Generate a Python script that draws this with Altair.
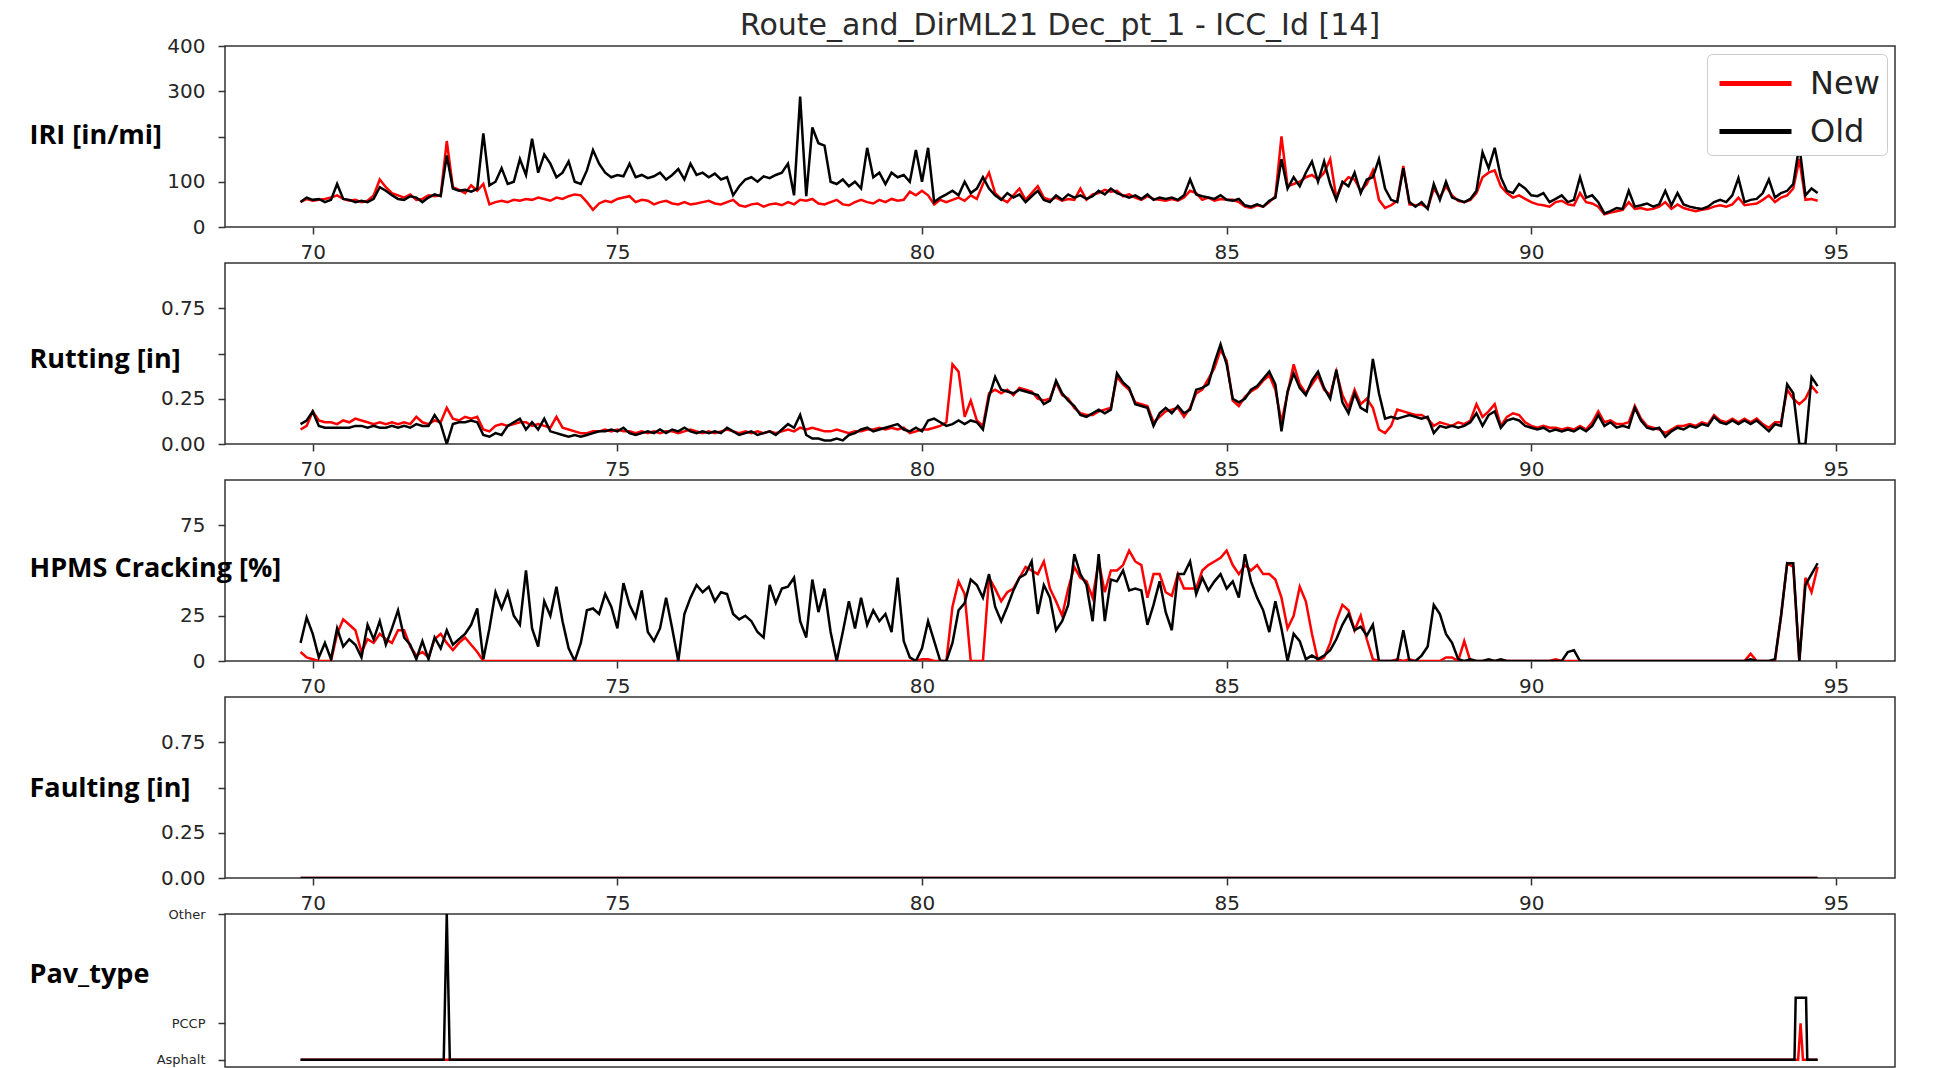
import altair as alt
import pandas as pd

# ---------------- data ----------------
miles = [round(69.8 + 0.1 * i, 1) for i in range(250)]

iri_old = [
    55, 65, 60,
    62, 55, 60, 95, 62, 60, 55, 58, 55, 62,
    88, 80, 70, 62, 60, 68, 65, 55, 65, 72,
    68, 158, 85, 80, 82, 78, 84, 207, 92, 100,
    130, 95, 100, 150, 115, 195, 120, 160, 140, 110,
    120, 145, 100, 95, 125, 170, 140, 120, 110, 115,
    112, 140, 110, 115, 108, 112, 120, 105, 115, 128,
    105, 140, 115, 120, 110, 118, 105, 110, 70, 90,
    105, 110, 100, 112, 108, 115, 120, 140, 70, 288,
    68, 220, 185, 180, 100, 95, 105, 90, 100, 85,
    175, 110, 120, 95, 120, 110, 115, 100, 170, 100,
    175, 55, 65, 72, 80, 70, 100, 75, 85, 110,
    85, 70, 60, 75, 65, 72, 55, 68, 80, 60,
    55, 70, 60, 72, 65, 70, 62, 68, 80, 72,
    85, 75, 70, 65, 70, 62, 72, 60, 65, 62,
    65, 60, 70, 105, 72, 68, 65, 62, 70, 60,
    58, 62, 48, 45, 50, 45, 58, 65, 150, 85,
    110, 90, 120, 145, 100, 145, 95, 60, 100, 90,
    120, 75, 105, 110, 150, 85, 60, 55, 130, 55,
    45, 55, 40, 95, 60, 100, 65, 60, 55, 62,
    80, 165, 130, 175, 110, 80, 75, 95, 85, 70,
    68, 75, 55, 62, 70, 55, 60, 110, 65, 70,
    55, 30, 35, 42, 40, 80, 45, 48, 52, 45,
    50, 80, 48, 75, 50, 45, 42, 40, 45, 55,
    60, 55, 70, 108, 55, 60, 62, 75, 105, 65,
    75, 80, 95, 180, 70, 85, 75,
]
iri_new = [
    55, 62, 58,
    60, 62, 65, 70, 62, 58, 60, 55, 58, 70,
    105, 88, 75, 70, 65, 72, 60, 62, 70, 68,
    70, 190, 88, 82, 75, 92, 80, 95, 50, 55,
    58, 55, 60, 58, 62, 60, 65, 62, 58, 65,
    62, 68, 72, 70, 55, 38, 52, 58, 55, 62,
    65, 68, 55, 60, 58, 50, 55, 58, 52, 50,
    55, 50, 52, 55, 58, 52, 50, 55, 60, 48,
    45, 50, 52, 45, 50, 52, 48, 55, 50, 60,
    58, 62, 52, 50, 55, 60, 50, 48, 55, 60,
    55, 52, 60, 55, 62, 58, 60, 78, 70, 80,
    70, 50, 60, 55, 60, 65, 58, 70, 62, 95,
    120, 75, 62, 55, 70, 85, 60, 75, 90, 65,
    60, 65, 58, 62, 60, 85, 60, 72, 75, 82,
    78, 80, 68, 72, 65, 60, 68, 62, 60, 58,
    62, 58, 65, 80, 75, 60, 65, 58, 62, 60,
    60, 55, 45, 42, 48, 45, 55, 68, 200, 90,
    95, 100, 110, 115, 105, 120, 150, 65, 95, 110,
    105, 80, 95, 125, 60, 42, 48, 58, 135, 50,
    48, 50, 42, 85, 65, 90, 70, 58, 55, 60,
    75, 110, 120, 125, 90, 75, 65, 70, 62, 55,
    50, 48, 45, 55, 58, 50, 48, 75, 55, 52,
    45, 28, 32, 35, 38, 55, 40, 42, 38, 40,
    45, 55, 40, 50, 42, 38, 35, 38, 40, 45,
    48, 45, 50, 65, 48, 50, 52, 60, 70, 55,
    65, 70, 85, 150, 60, 62, 58,
]

rut_old = [
    0.11, 0.13, 0.18,
    0.10, 0.09, 0.09, 0.09, 0.09, 0.09, 0.10, 0.10, 0.09, 0.10,
    0.09, 0.09, 0.10, 0.09, 0.10, 0.09, 0.11, 0.10, 0.10, 0.16,
    0.11, 0.00, 0.11, 0.12, 0.12, 0.13, 0.12, 0.05, 0.04, 0.06,
    0.05, 0.10, 0.12, 0.14, 0.08, 0.12, 0.08, 0.14, 0.07, 0.06,
    0.05, 0.04, 0.05, 0.04, 0.05, 0.06, 0.07, 0.07, 0.08, 0.07,
    0.09, 0.06, 0.05, 0.06, 0.07, 0.06, 0.08, 0.06, 0.08, 0.07,
    0.09, 0.07, 0.06, 0.07, 0.06, 0.07, 0.06, 0.09, 0.07, 0.05,
    0.06, 0.07, 0.05, 0.06, 0.07, 0.05, 0.08, 0.11, 0.09, 0.16,
    0.05, 0.03, 0.03, 0.02, 0.02, 0.03, 0.02, 0.05, 0.06, 0.08,
    0.09, 0.07, 0.08, 0.09, 0.10, 0.11, 0.08, 0.07, 0.09, 0.07,
    0.13, 0.14, 0.12, 0.10, 0.11, 0.13, 0.11, 0.13, 0.12, 0.08,
    0.26, 0.37, 0.30, 0.29, 0.28, 0.30, 0.29, 0.28, 0.27, 0.22,
    0.24, 0.35, 0.28, 0.24, 0.21, 0.16, 0.15, 0.17, 0.19, 0.17,
    0.19, 0.39, 0.34, 0.31, 0.22, 0.21, 0.20, 0.10, 0.17, 0.20,
    0.17, 0.21, 0.17, 0.19, 0.30, 0.31, 0.33, 0.45, 0.55, 0.44,
    0.25, 0.23, 0.25, 0.30, 0.32, 0.36, 0.40, 0.33, 0.07, 0.29,
    0.39, 0.31, 0.27, 0.35, 0.40, 0.31, 0.25, 0.41, 0.23, 0.17,
    0.28, 0.20, 0.18, 0.47, 0.28, 0.14, 0.15, 0.14, 0.15, 0.16,
    0.15, 0.14, 0.15, 0.06, 0.10, 0.09, 0.10, 0.09, 0.10, 0.12,
    0.17, 0.10, 0.16, 0.18, 0.09, 0.13, 0.14, 0.13, 0.10, 0.09,
    0.08, 0.09, 0.07, 0.08, 0.07, 0.08, 0.07, 0.09, 0.07, 0.10,
    0.16, 0.10, 0.12, 0.09, 0.10, 0.09, 0.20, 0.13, 0.09, 0.08,
    0.09, 0.04, 0.07, 0.09, 0.08, 0.10, 0.09, 0.11, 0.10, 0.15,
    0.12, 0.11, 0.13, 0.11, 0.13, 0.11, 0.13, 0.10, 0.07, 0.11,
    0.10, 0.33, 0.28, 0.00, 0.00, 0.37, 0.32,
]
rut_new = [
    0.08, 0.10, 0.18,
    0.13, 0.12, 0.12, 0.11, 0.13, 0.12, 0.14, 0.13, 0.12, 0.11,
    0.12, 0.11, 0.12, 0.11, 0.12, 0.11, 0.15, 0.12, 0.11, 0.13,
    0.12, 0.20, 0.14, 0.13, 0.15, 0.14, 0.15, 0.08, 0.07, 0.10,
    0.11, 0.10, 0.11, 0.12, 0.12, 0.10, 0.11, 0.10, 0.09, 0.15,
    0.09, 0.08, 0.07, 0.06, 0.06, 0.07, 0.07, 0.08, 0.07, 0.08,
    0.07, 0.07, 0.06, 0.07, 0.06, 0.07, 0.06, 0.07, 0.07, 0.06,
    0.07, 0.08, 0.07, 0.06, 0.07, 0.06, 0.07, 0.08, 0.07, 0.06,
    0.07, 0.06, 0.07, 0.06, 0.07, 0.06, 0.07, 0.08, 0.07, 0.09,
    0.08, 0.09, 0.08, 0.07, 0.07, 0.08, 0.07, 0.06, 0.07, 0.07,
    0.08, 0.08, 0.09, 0.08, 0.09, 0.08, 0.09, 0.06, 0.07, 0.08,
    0.08, 0.09, 0.10, 0.12, 0.44, 0.40, 0.15, 0.24, 0.13, 0.10,
    0.28, 0.30, 0.28, 0.30, 0.27, 0.31, 0.30, 0.29, 0.25, 0.24,
    0.25, 0.34, 0.27, 0.25, 0.20, 0.17, 0.16, 0.16, 0.18, 0.19,
    0.20, 0.37, 0.33, 0.30, 0.23, 0.22, 0.21, 0.12, 0.15, 0.18,
    0.19, 0.20, 0.15, 0.20, 0.28, 0.30, 0.36, 0.42, 0.52, 0.46,
    0.24, 0.21, 0.26, 0.29, 0.31, 0.35, 0.38, 0.30, 0.12, 0.28,
    0.44, 0.33, 0.28, 0.33, 0.38, 0.30, 0.27, 0.40, 0.27, 0.20,
    0.30, 0.22, 0.25, 0.20, 0.08, 0.06, 0.10, 0.19, 0.18, 0.17,
    0.16, 0.16, 0.14, 0.10, 0.12, 0.11, 0.10, 0.12, 0.11, 0.13,
    0.22, 0.15, 0.18, 0.22, 0.10, 0.15, 0.17, 0.16, 0.12, 0.10,
    0.09, 0.10, 0.09, 0.09, 0.08, 0.09, 0.08, 0.10, 0.08, 0.12,
    0.18, 0.12, 0.13, 0.11, 0.11, 0.12, 0.21, 0.14, 0.10, 0.09,
    0.08, 0.06, 0.08, 0.10, 0.10, 0.11, 0.10, 0.12, 0.11, 0.16,
    0.13, 0.12, 0.14, 0.12, 0.14, 0.12, 0.14, 0.11, 0.09, 0.12,
    0.12, 0.30, 0.25, 0.22, 0.25, 0.32, 0.28,
]

crk_old = [
    10, 24, 15,
    2, 10, 1, 18, 8, 12, 9, 2, 20, 12,
    22, 9, 18, 28, 13, 9, 1, 11, 1, 13,
    7, 17, 9, 12, 15, 20, 29, 1, 18, 38,
    29, 38, 25, 20, 50, 18, 8, 33, 25, 41,
    22, 7, 0, 10, 28, 29, 26, 37, 30, 18,
    43, 31, 24, 39, 16, 11, 18, 35, 18, 0,
    26, 35, 42, 38, 41, 33, 38, 37, 26, 23,
    25, 22, 16, 13, 42, 32, 40, 41, 46, 22,
    13, 45, 27, 40, 16, 0, 16, 33, 18, 35,
    20, 28, 22, 26, 16, 46, 11, 2, 0, 7,
    22, 11, 0, 0, 10, 28, 32, 45, 42, 35,
    48, 30, 22, 30, 39, 46, 48, 55, 26, 42,
    35, 17, 22, 31, 59, 48, 42, 22, 59, 22,
    45, 44, 50, 39, 40, 39, 20, 31, 44, 27,
    17, 48, 48, 55, 37, 46, 39, 44, 48, 40,
    44, 35, 59, 44, 35, 28, 16, 33, 18, 0,
    15, 11, 1, 3, 1, 3, 6, 12, 20, 26,
    17, 19, 14, 20, 0, 0, 0, 0, 17, 0,
    0, 3, 8, 31, 26, 15, 10, 1, 0, 1,
    0, 0, 1, 0, 1, 0, 0, 0, 0, 0,
    0, 0, 0, 0, 0, 5, 6, 0, 0, 0,
    0, 0, 0, 0, 0, 0, 0, 0, 0, 0,
    0, 0, 0, 0, 0, 0, 0, 0, 0, 0,
    0, 0, 0, 0, 0, 1, 0, 0, 0, 1,
    25, 54, 54, 0, 42, 48, 54,
]
crk_new = [
    5, 2, 1,
    0, 0, 0, 15, 23, 20, 17, 5, 12, 10,
    15, 12, 10, 17, 17, 8, 3, 5, 2, 12,
    15, 10, 6, 10, 13, 9, 5, 0, 0, 0,
    0, 0, 0, 0, 0, 0, 0, 0, 0, 0,
    0, 0, 0, 0, 0, 0, 0, 0, 0, 0,
    0, 0, 0, 0, 0, 0, 0, 0, 0, 0,
    0, 0, 0, 0, 0, 0, 0, 0, 0, 0,
    0, 0, 0, 0, 0, 0, 0, 0, 0, 0,
    0, 0, 0, 0, 0, 0, 0, 0, 0, 0,
    0, 0, 0, 0, 0, 0, 0, 0, 0, 1,
    1, 0, 0, 0, 30, 44, 37, 0, 0, 0,
    46, 40, 33, 38, 40, 46, 52, 50, 48, 55,
    40, 33, 25, 40, 52, 46, 44, 35, 55, 38,
    50, 50, 53, 61, 55, 53, 35, 48, 48, 38,
    36, 48, 40, 40, 40, 50, 53, 55, 57, 61,
    53, 48, 53, 50, 53, 48, 48, 45, 35, 18,
    25, 41, 33, 15, 0, 2, 10, 22, 31, 28,
    17, 25, 12, 1, 0, 0, 0, 1, 0, 1,
    0, 0, 0, 0, 0, 2, 2, 0, 11, 0,
    0, 0, 0, 0, 0, 0, 0, 0, 0, 0,
    0, 0, 0, 1, 0, 0, 0, 0, 0, 0,
    0, 0, 0, 0, 0, 0, 0, 0, 0, 0,
    0, 0, 0, 0, 0, 0, 0, 0, 0, 0,
    0, 0, 0, 0, 0, 4, 0, 0, 0, 0,
    25, 54, 52, 0, 46, 38, 52,
]

flt_old = [0.0] * 250
flt_new = [0.0] * 250

# pavement type codes: 0 = Asphalt, 1 = PCCP, 4 = Other
pav_x_old = [69.8, 72.15, 72.2, 72.25, 94.32, 94.34, 94.51, 94.53, 94.7]
pav_old = [0, 0, 4, 0, 0, 1.7, 1.7, 0, 0]
pav_x_new = [69.8, 94.38, 94.42, 94.46, 94.7]
pav_new = [0, 0, 1, 0, 0]

for arr in (iri_old, iri_new, rut_old, rut_new, crk_old, crk_new):
    assert len(arr) == len(miles), len(arr)

x_ticks = [70, 75, 80, 85, 90, 95]
title_text = "Route_and_DirML21 Dec_pt_1 - ICC_Id [14]"

# ---------------- chart ----------------
X_DOMAIN = [68.56, 95.97]
W = 1670
color_scale = alt.Scale(domain=["New", "Old"], range=["#ff0000", "#000000"])


def frame(xs_new, new, xs_old, old):
    return pd.DataFrame({
        "mile": list(xs_new) + list(xs_old),
        "value": list(new) + list(old),
        "series": ["New"] * len(new) + ["Old"] * len(old),
    })


def panel(df, ytitle, ydomain, yticks, height, title_y, fmt=None,
          label_expr=None, show_x=True, legend=None, ylabel_size=20):
    if show_x:
        x_axis = alt.Axis(values=x_ticks, title=None, format="d",
                          labelPadding=8, labelFlush=False)
    else:
        x_axis = None
    yargs = dict(values=yticks, title=ytitle, titleAngle=0, titleAlign="left",
                 titleBaseline="middle", titleX=-196, titleY=title_y,
                 labelPadding=13, labelFlush=False, labelFontSize=ylabel_size)
    if fmt:
        yargs["format"] = fmt
    if label_expr:
        yargs["labelExpr"] = label_expr
    base = alt.Chart(df).encode(
        x=alt.X("mile:Q", scale=alt.Scale(domain=X_DOMAIN, nice=False, zero=False),
                axis=x_axis),
        y=alt.Y("value:Q", scale=alt.Scale(domain=ydomain, nice=False, zero=False),
                axis=alt.Axis(**yargs)),
        color=alt.Color("series:N", scale=color_scale, legend=legend),
    )
    red = base.transform_filter(alt.datum.series == "New").mark_line(
        strokeWidth=2.5, clip=True)
    black = base.transform_filter(alt.datum.series == "Old").mark_line(
        strokeWidth=2.5, clip=True)
    return alt.layer(red, black).properties(width=W, height=height)


legend = alt.Legend(
    title=None, orient="top-right", offset=8,
    symbolType="M -1.8 0 L 1.8 0", symbolSize=1600, symbolStrokeWidth=5,
    symbolOffset=19, labelOffset=32, labelExpr="datum.label + '\u00a0'",
    labelFont="DejaVu Sans", labelFontSize=32, labelColor="#222222",
    fillColor="white", strokeColor="#cccccc", padding=7, cornerRadius=5,
    rowPadding=9,
)

p1 = panel(frame(miles, iri_new, miles, iri_old), "IRI [in/mi]", [0, 400],
           [0, 100, 200, 300, 400], 181, 89,
           label_expr="datum.value == 200 ? '' : datum.label", legend=legend
           ).properties(title=alt.TitleParams(
               title_text, font="DejaVu Sans", fontSize=30, fontWeight="normal",
               color="#2a2a2a", anchor="middle", frame="group", offset=-5))
p2 = panel(frame(miles, rut_new, miles, rut_old), "Rutting [in]", [0, 1],
           [0, 0.25, 0.5, 0.75], 181, 96, fmt=".2f",
           label_expr="datum.value == 0.5 ? '' : datum.label")
p3 = panel(frame(miles, crk_new, miles, crk_old), "HPMS Cracking [%]", [0, 100],
           [0, 25, 50, 75], 181, 88,
           label_expr="datum.value == 50 ? '' : datum.label")
p4 = panel(frame(miles, flt_new, miles, flt_old), "Faulting [in]", [0, 1],
           [0, 0.25, 0.5, 0.75], 181, 91, fmt=".2f",
           label_expr="datum.value == 0.5 ? '' : datum.label")
p5 = panel(frame(pav_x_new, pav_new, pav_x_old, pav_old), "Pav_type", [-0.2, 4],
           [0, 1, 4], 153, 60,
           label_expr="datum.value == 0 ? 'Asphalt' : datum.value == 1 ? 'PCCP' : 'Other'",
           show_x=False, ylabel_size=13)

chart = (
    alt.vconcat(p1, p2, p3, p4, p5, spacing=36, bounds="flush")
    .resolve_legend(color="independent")
    .properties(padding={"left": 28, "top": 10, "right": 20, "bottom": 0},
                background="white")
    .configure_view(stroke="#333333", strokeWidth=1.5)
    .configure_axis(
        labelFont="DejaVu Sans", labelFontSize=20, labelColor="#262626",
        tickColor="#333333", tickWidth=1.5, tickSize=7,
        titleFont="Open Sans", titleFontWeight="bold", titleFontSize=27,
        titleColor="#000000", grid=False, domain=False,
    )
)

chart.save("out.html", embed_options={"renderer": "svg", "actions": False})
